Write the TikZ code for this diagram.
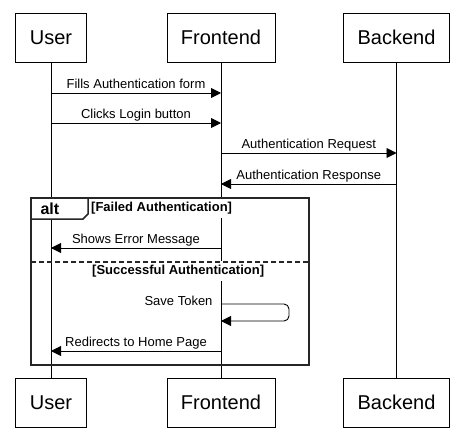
\documentclass[tikz,border=0pt]{standalone}
\usepackage{fontspec}
\setmainfont{Liberation Sans}
\usetikzlibrary{arrows.meta}
\begin{document}
\begin{tikzpicture}[x=1pt,y=-1pt,
    actor/.style={draw,line width=0.9pt,minimum height=49pt,inner xsep=14pt,font=\fontsize{20}{24}\selectfont},
    msg/.style={line width=0.9pt,-{Triangle[length=10pt,width=10pt]}},
    lbl/.style={anchor=base,yshift=5pt,font=\fontsize{13}{15}\selectfont},
    guard/.style={anchor=base west,fill=white,inner xsep=1pt,inner ysep=4pt,font=\bfseries\fontsize{13}{15}\selectfont},
    frame/.style={line width=1.5pt,black!85}]
        \useasboundingbox (0,0) rectangle (464,439);
        %% participants
        \node[actor] (uT) at (51,37.5) {User};
        \node[actor] (fT) at (221,37.5) {Frontend};
        \node[actor] (bT) at (396.5,37.5) {Backend};
        \node[actor] (uB) at (51,402.5) {User};
        \node[actor] (fB) at (221,402.5) {Frontend};
        \node[actor] (bB) at (396.5,402.5) {Backend};
        %% lifelines
        \draw[line width=0.9pt] (uT) -- (uB);
        \draw[line width=0.9pt] (fT) -- (fB);
        \draw[line width=0.9pt] (bT) -- (bB);
        %% messages
        \draw[msg] (uT |- 0,93) -- node[lbl] {Fills Authentication form} (fT |- 0,93);
        \draw[msg] (uT |- 0,123) -- node[lbl] {Clicks Login button} (fT |- 0,123);
        \draw[msg] (fT |- 0,153) -- node[lbl] {Authentication Request} (bT |- 0,153);
        \draw[msg] (bT |- 0,184) -- node[lbl] {Authentication Response} (fT |- 0,184);
        %% alt frame
        \node[guard] (g1) at (90,211) {[Failed Authentication]};
        \node[guard] (g2) at (91,274) {[Successful Authentication]};
        \draw[frame] (31,198) rectangle (309,365);
        \draw[frame,fill=white] (31,198) -- (31,219) -- (83,219) -- (88,214) -- (88,198) -- cycle;
        \node[anchor=base west,font=\bfseries\fontsize{16}{18}\selectfont] (alt) at (37,214) {alt};
        \draw[msg] (fT |- 0,248) -- node[lbl] {Shows Error Message} (uT |- 0,248);
        \draw[frame,line width=1.2pt,dash pattern=on 5pt off 3pt] (31,262) -- (309,262);
        \draw[msg,rounded corners=5pt] (fT |- 0,304) -- (289,304) -- (289,321) -- (fT |- 0,321);
        \node[lbl,anchor=base east,yshift=0pt] (save) at (216,310) {Save Token};
        \draw[msg] (fT |- 0,351) -- node[lbl] {Redirects to Home Page} (uT |- 0,351);
    \end{tikzpicture}
\end{document}
